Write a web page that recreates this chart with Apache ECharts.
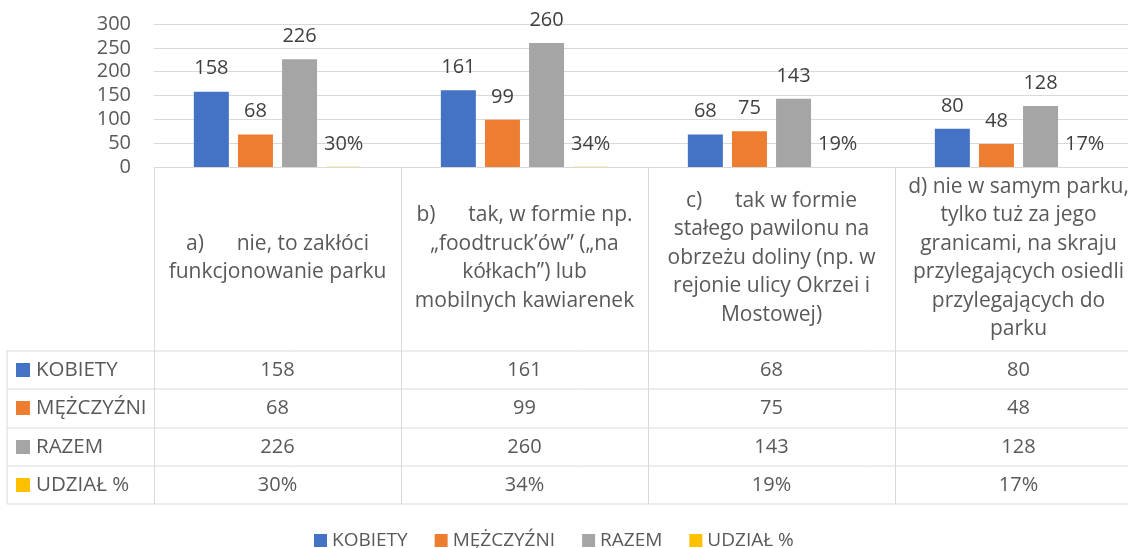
<!DOCTYPE html>
<html>
<head>
<meta charset="utf-8">
<script src="https://cdn.jsdelivr.net/npm/echarts@6/dist/echarts.min.js"></script>
<style>
  html, body { margin: 0; padding: 0; background: #fff; overflow: hidden; }
  /* the source picture is cut off on the right, so the chart is wider than the window */
  #chart { width: 1160px; height: 548px; }
</style>
</head>
<body>
<div id="chart"></div>
<script>
// categories (answer options), line breaks as in the source table
var categories = [
  'a)      nie, to zakłóci\nfunkcjonowanie parku',
  'b)      tak, w formie np.\n„foodtruck’ów” („na\nkółkach”) lub\nmobilnych kawiarenek',
  'c)      tak w formie\nstałego pawilonu na\nobrzeżu doliny (np. w\nrejonie ulicy Okrzei i\nMostowej)',
  'd) nie w samym parku,\ntylko tuż za jego\ngranicami, na skraju\nprzylegających osiedli\nprzylegających do\nparku'
]
var kobiety = [158, 161, 68, 80]
var mezczyzni = [68, 99, 75, 48]
var razem = [226, 260, 143, 128]
var udzial = [30, 34, 19, 17] // percent
var seriesNames = ['KOBIETY', 'MĘŻCZYŹNI', 'RAZEM', 'UDZIAŁ %']
var colors = ['#4472C4', '#ED7D31', '#A5A5A5', '#FFC000']
var yTicks = [0, 50, 100, 150, 200, 250, 300]

var font = 'Open Sans'
var textColor = '#595959'
var lineColor = '#D9D9D9'

var chart = echarts.init(document.getElementById('chart'))

// table rows under the chart
var tableRows = [
  kobiety.map(String),
  mezczyzni.map(String),
  razem.map(String),
  udzial.map(function(v) { return v + '%' })
]
var rowCenters = [370, 408, 447, 485]
var rowLines = [351, 389, 428, 466, 504]

var xAxes = [{
  type: 'category',
  data: categories,
  gridIndex: 0,
  position: 'bottom',
  axisLine: { show: true, lineStyle: { color: lineColor, width: 1 } },
  axisTick: { show: true, alignWithLabel: false, length: 337, lineStyle: { color: lineColor, width: 1 } },
  axisLabel: {
    interval: 0, margin: 91, verticalAlign: 'middle', align: 'center',
    fontFamily: font, fontSize: 21, lineHeight: 28.5, color: textColor
  }
}]
tableRows.forEach(function(row, i) {
  xAxes.push({
    type: 'category',
    data: row,
    gridIndex: 0,
    position: 'bottom',
    axisLine: { show: false },
    axisTick: { show: false },
    axisLabel: {
      interval: 0, margin: rowCenters[i] - 167, verticalAlign: 'middle',
      fontFamily: font, fontSize: 20, color: textColor
    }
  })
})

var graphics = []
rowLines.forEach(function(y) {
  graphics.push({ type: 'line', shape: { x1: 7, y1: y, x2: 1160, y2: y }, style: { stroke: lineColor, lineWidth: 1 } })
})
graphics.push({ type: 'line', shape: { x1: 7, y1: 351, x2: 7, y2: 504 }, style: { stroke: lineColor, lineWidth: 1 } })
seriesNames.forEach(function(name, i) {
  graphics.push({ type: 'rect', shape: { x: 16, y: rowCenters[i] - 7, width: 14, height: 14 }, style: { fill: colors[i] } })
  graphics.push({
    type: 'text', x: 36, y: rowCenters[i],
    style: { text: name, fill: textColor, font: '20.5px ' + font, verticalAlign: 'middle' }
  })
})

function barSeries(name, values, color, fmt) {
  return {
    name: name,
    type: 'bar',
    data: values,
    barWidth: 35,
    barGap: '26%',
    itemStyle: { color: color },
    label: {
      show: true, position: 'top', distance: 13,
      fontFamily: font, fontSize: 20, color: '#404040',
      formatter: fmt || '{c}'
    }
  }
}

chart.setOption({
  animation: false,
  textStyle: { fontFamily: font },
  grid: { left: 154, right: 18, top: 24, bottom: 381, containLabel: false },
  legend: {
    left: 314, top: 531, padding: 0,
    icon: 'rect', itemWidth: 13, itemHeight: 13, itemGap: 27,
    textStyle: { fontFamily: font, fontSize: 19, color: textColor },
    data: seriesNames
  },
  xAxis: xAxes,
  yAxis: {
    type: 'value',
    min: yTicks[0],
    max: yTicks[yTicks.length - 1],
    interval: yTicks[1] - yTicks[0],
    axisLine: { show: false },
    axisTick: { show: false },
    axisLabel: { fontFamily: font, fontSize: 20, color: textColor, margin: 23 },
    splitLine: { lineStyle: { color: lineColor, width: 1 } }
  },
  graphic: graphics,
  series: [
    barSeries(seriesNames[0], kobiety, colors[0]),
    barSeries(seriesNames[1], mezczyzni, colors[1]),
    barSeries(seriesNames[2], razem, colors[2]),
    barSeries(seriesNames[3], udzial.map(function(v) { return v / 100 }), colors[3], function(p) {
      return udzial[p.dataIndex] + '%'
    })
  ]
})
</script>
</body>
</html>
